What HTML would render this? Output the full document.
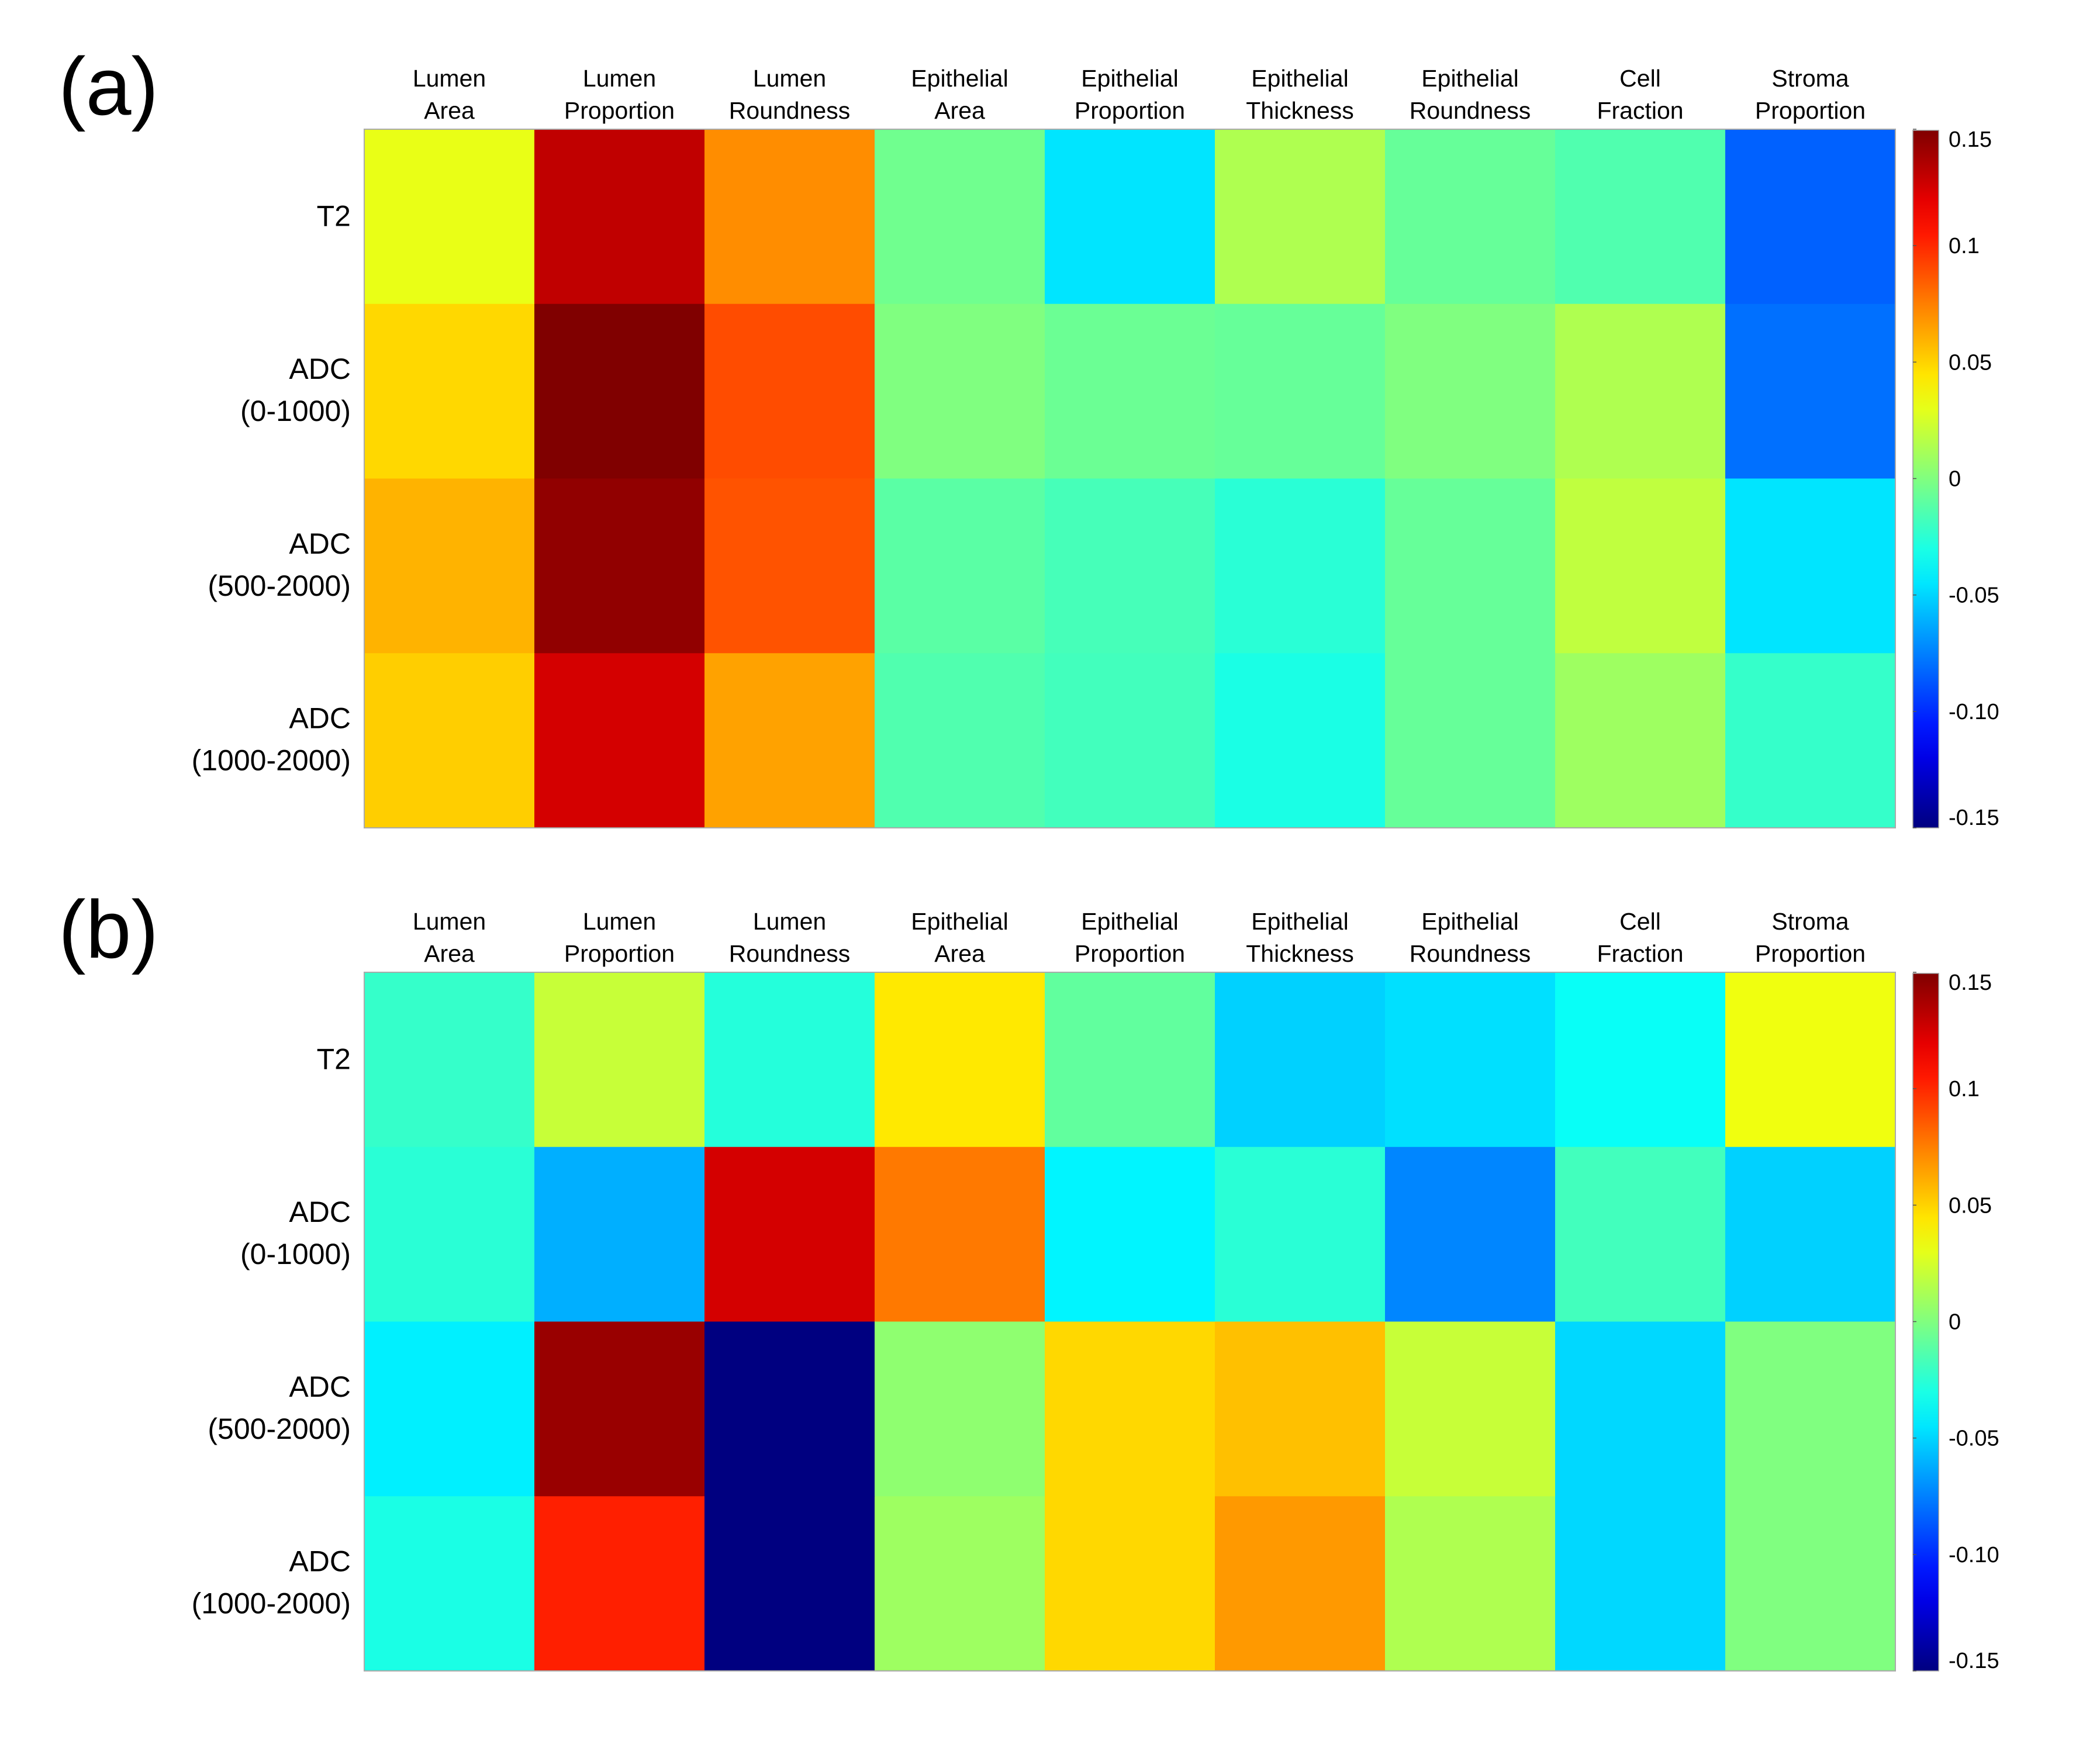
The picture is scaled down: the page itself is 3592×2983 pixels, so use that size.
<!DOCTYPE html>
<html><head><meta charset="utf-8">
<style>
html,body{margin:0;padding:0;background:#fff;}
svg{display:block;font-family:"Liberation Sans","DejaVu Sans",sans-serif;}
</style></head>
<body>
<svg id="fig" width="3592" height="2983" viewBox="0 0 3592 2983"></svg>
<script>
const columns = [["Lumen","Area"],["Lumen","Proportion"],["Lumen","Roundness"],["Epithelial","Area"],["Epithelial","Proportion"],["Epithelial","Thickness"],["Epithelial","Roundness"],["Cell","Fraction"],["Stroma","Proportion"]];
const rows = [["T2"],["ADC","(0-1000)"],["ADC","(500-2000)"],["ADC","(1000-2000)"]];
const valuesA = [
 [0.031,0.131,0.071,-0.0045,-0.045,0.014,-0.0075,-0.014,-0.084],
 [0.049,0.15,0.09,0,-0.006,-0.0075,0,0.014,-0.0795],
 [0.06,0.145,0.088,-0.011,-0.017,-0.0255,-0.0075,0.019,-0.045],
 [0.052,0.125,0.065,-0.014,-0.018,-0.03,-0.0075,0.009,-0.022]
];
const valuesB = [
 [-0.022,0.021,-0.027,0.044,-0.009,-0.051,-0.0465,-0.035,0.033],
 [-0.0255,-0.061,0.125,0.077,-0.0405,-0.0255,-0.073,-0.018,-0.051],
 [-0.042,0.1425,-0.15,0.0045,0.049,0.056,0.021,-0.049,0],
 [-0.03,0.1035,-0.15,0.009,0.049,0.0675,0.014,-0.049,0]
];
const tickValues = [0.15,0.1,0.05,0,-0.05,-0.10,-0.15];
const tickLabels = ["0.15","0.1","0.05","0","-0.05","-0.10","-0.15"];
const vmin = -0.15, vmax = 0.15;

const NS="http://www.w3.org/2000/svg";
const svg=document.getElementById('fig');
function mk(tag,attrs,parent){const e=document.createElementNS(NS,tag);for(const k in attrs)e.setAttribute(k,attrs[k]);(parent||svg).appendChild(e);return e;}
function clamp(x){return Math.max(0,Math.min(1,x));}
function jet(v){const t=clamp((v-vmin)/(vmax-vmin));
 const r=clamp(1.5-Math.abs(4*t-3)),g=clamp(1.5-Math.abs(4*t-2)),b=clamp(1.5-Math.abs(4*t-1));
 return `rgb(${Math.round(r*255)},${Math.round(g*255)},${Math.round(b*255)})`;}

const X0=623,X1=3242,CBX=3272,CBW=44,H=1195;
function panel(top,data,letter){
 const g=mk('g',{});
 
 
 const cw=(X1-X0)/columns.length, rh=H/rows.length;
 const xs=i=>X0+i*cw, ys=j=>top+j*rh;
 const lab=mk('text',{x:100,y:top-25,'font-size':140,'text-anchor':'start',fill:'#000'},g);
 lab.textContent='('+letter+')';
 
 
 columns.forEach((c,i)=>{
  const t=mk('text',{x:xs(i)+cw/2,'font-size':41,'text-anchor':'middle',fill:'#000'},g);
  
  
  c.forEach((s,k)=>{const sp=mk('tspan',{x:xs(i)+cw/2,y:top-73+k*55},t);sp.textContent=s;});
 });
 rows.forEach((r,j)=>{
  const t=mk('text',{x:600,'font-size':50,'text-anchor':'end',fill:'#000'},g);
  
  
  const cy=ys(j)+rh/2+16, off=r.length===1?0:-37;
  r.forEach((s,k)=>{const sp=mk('tspan',{x:600,y:cy+off+k*72},t);sp.textContent=s;});
 });
 data.forEach((row,j)=>row.forEach((v,i)=>{
  const c=mk('rect',{x:xs(i),y:ys(j),width:cw+0.5,height:rh+0.5,fill:jet(v)},g);
  
  
 }));
 const bd=mk('rect',{x:X0,y:top,width:X1-X0,height:H,fill:'none',stroke:'#aaa','stroke-width':2},g);
 
 
 const gid='grad'+letter;
 const defs=mk('defs',{},g);
 const lg=mk('linearGradient',{id:gid,x1:0,y1:1,x2:0,y2:0},defs);
 for(let k=0;k<=20;k++){mk('stop',{offset:k/20,'stop-color':jet(vmin+(vmax-vmin)*k/20)},lg);}
 const cb=mk('rect',{x:CBX,y:top+2,width:CBW,height:H-2,fill:`url(#${gid})`,stroke:'#999','stroke-width':1.5},g);
 
 
 const cy=v=>top+(vmax-v)/(vmax-vmin)*H;
 tickValues.forEach((v,k)=>{
  let y=cy(v)+13;
  if(k===0)y=top+30; if(k===tickValues.length-1)y=top+H-5;
  const t=mk('text',{x:3333,y:y,'font-size':38,fill:'#000'},g);
  t.textContent=tickLabels[k];
  
  
  mk('line',{x1:CBX,x2:CBX+6,y1:cy(v),y2:cy(v),stroke:'#555','stroke-width':1.5},g);
 });
}
panel(221,valuesA,'a');
panel(1663,valuesB,'b');
</script>
</body></html>
